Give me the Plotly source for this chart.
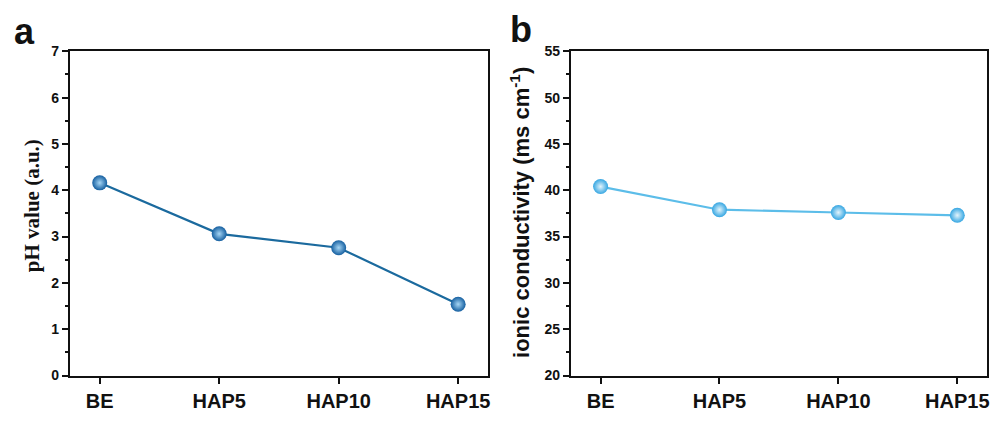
import plotly.graph_objects as go

categories = ["BE", "HAP5", "HAP10", "HAP15"]
ph_values = [4.16, 3.06, 2.76, 1.54]
conductivity = [40.4, 37.9, 37.6, 37.3]

fig = go.Figure()

fig.add_trace(go.Scatter(
    x=[0, 1, 2, 3], y=ph_values, mode="lines+markers",
    line=dict(color="#1b6a9e", width=2.2),
    marker=dict(size=15, color="#155fa0", gradient=dict(type="radial", color="#a6d6f5"),
                line=dict(width=0)),
    xaxis="x", yaxis="y", showlegend=False))

fig.add_trace(go.Scatter(
    x=[0, 1, 2, 3], y=conductivity, mode="lines+markers",
    line=dict(color="#5cbde9", width=2.2),
    marker=dict(size=15, color="#35a6e2", gradient=dict(type="radial", color="#e3f4fc"),
                line=dict(width=0)),
    xaxis="x2", yaxis="y2", showlegend=False))

W, H = 997, 423
xd1 = [70 / W, 489 / W]
xd2 = [572 / W, 989 / W]
yd = [(H - 382) / H, (H - 45) / H]

tickfont_x = dict(family="Liberation Sans, Arial", size=20, color="#111")
tickfont_y = dict(family="Liberation Sans, Arial", size=14, color="#111")

common_x = dict(range=[-0.25, 3.25], tickmode="array", tickvals=[0, 1, 2, 3],
                ticktext=[f"<b>{c}</b>" for c in categories], tickfont=tickfont_x,
                showline=True, linecolor="#111", linewidth=2, mirror=True,
                ticks="outside", ticklen=6, tickwidth=2, tickcolor="#111",
                showgrid=False, zeroline=False, fixedrange=True)

fig.update_layout(
    width=W, height=H, margin=dict(l=0, r=0, t=0, b=0),
    paper_bgcolor="white", plot_bgcolor="white",
    xaxis=dict(domain=xd1, anchor="y", **common_x),
    xaxis2=dict(domain=xd2, anchor="y2", **common_x),
    yaxis=dict(domain=yd, anchor="x", range=[0, 7], tickmode="array",
               tickvals=list(range(8)), ticktext=[f"<b>{v}</b>" for v in range(8)],
               tickfont=tickfont_y, showline=True, linecolor="#111", linewidth=2, mirror=True,
               ticks="outside", ticklen=6, tickwidth=2, tickcolor="#111",
               minor=dict(dtick=0.5, ticks="outside", ticklen=3, tickwidth=1.5, tickcolor="#111"),
               showgrid=False, zeroline=False),
    yaxis2=dict(domain=yd, anchor="x2", range=[20, 55], tickmode="array",
                tickvals=list(range(20, 56, 5)), ticktext=[f"<b>{v}</b>" for v in range(20, 56, 5)],
                tickfont=tickfont_y, showline=True, linecolor="#111", linewidth=2, mirror=True,
                ticks="outside", ticklen=6, tickwidth=2, tickcolor="#111",
                minor=dict(dtick=2.5, ticks="outside", ticklen=3, tickwidth=1.5, tickcolor="#111"),
                showgrid=False, zeroline=False),
)

annotations = [
    dict(text="<b>pH value (a.u.)</b>", x=32 / W, y=(H - 205) / H, xref="paper", yref="paper",
         textangle=-90, showarrow=False, xanchor="center", yanchor="middle",
         font=dict(family="Liberation Serif, Times New Roman", size=21, color="#111")),
    dict(text="<b>ionic conductivity (ms cm<sup>-1</sup>)</b>", x=521 / W, y=(H - 212) / H,
         xref="paper", yref="paper", textangle=-90, showarrow=False,
         xanchor="center", yanchor="middle",
         font=dict(family="Liberation Sans, Arial", size=22, color="#111")),
    dict(text="<b>a</b>", x=25 / W, y=(H - 24) / H, xref="paper", yref="paper", showarrow=False,
         xanchor="center", yanchor="middle",
         font=dict(family="Liberation Sans, Arial", size=36, color="#111")),
    dict(text="<b>b</b>", x=522 / W, y=(H - 22) / H, xref="paper", yref="paper", showarrow=False,
         xanchor="center", yanchor="middle",
         font=dict(family="Liberation Sans, Arial", size=36, color="#111")),
]
fig.update_layout(annotations=annotations)

fig.write_html("out.html")
